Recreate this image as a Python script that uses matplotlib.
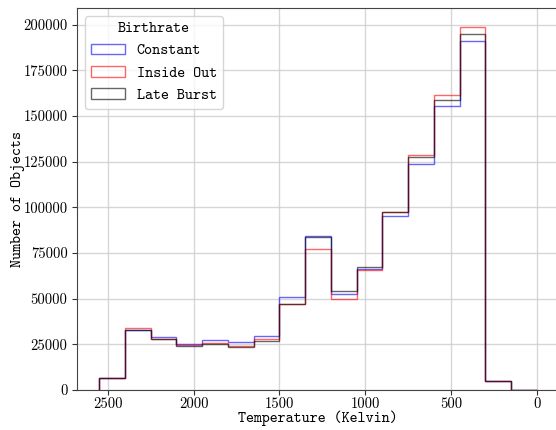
import numpy as np
import matplotlib
matplotlib.use("Agg")
import matplotlib.pyplot as plt

# bin edges (Kelvin)
edges = [2550, 2400, 2250, 2100, 1950, 1800, 1650, 1500, 1350, 1200,
         1050, 900, 750, 600, 450, 300, 150, 0]
edges = np.array(edges[::-1], dtype=float)

# counts per bin, from hot (2550) to cold (0)
constant = [6400, 33000, 29000, 25000, 27200, 26100, 29700, 50900, 84400,
            52300, 66500, 95500, 123800, 155700, 191300, 4800, 0]
inside_out = [6400, 34100, 28000, 24500, 25500, 24200, 27900, 46900, 77300,
              49800, 65600, 97200, 128400, 161500, 198900, 5000, 0]
late_burst = [6400, 33000, 28100, 24100, 25000, 23700, 26800, 46900, 83900,
              54000, 67400, 97200, 127300, 158800, 195100, 4800, 0]
series_names = ["Constant", "Inside Out", "Late Burst"]
series_colors = ["blue", "red", "black"]

plt.rcParams["mathtext.fontset"] = "cm"
plt.rcParams["font.family"] = ["cmr10", "DejaVu Serif"]
plt.rcParams["axes.formatter.use_mathtext"] = True
TT = ["cmtt10", "DejaVu Sans Mono"]

fig = plt.figure(figsize=(5.56, 4.30), dpi=100)
ax = fig.add_axes([0.139, 0.093, 0.866, 0.888])

centers = 0.5 * (edges[:-1] + edges[1:])
for vals, name, col in zip([constant, inside_out, late_burst], series_names, series_colors):
    w = np.array(vals[::-1], dtype=float)
    ax.hist(centers, bins=edges, weights=w, histtype="step", color=col,
            alpha=0.6, linewidth=1.0, label=name)

ax.set_xlim(2677.5, -127.5)
ax.set_ylim(0, 209000)
ax.set_xticks([2500, 2000, 1500, 1000, 500, 0])
ax.set_yticks(np.arange(0, 200001, 25000))
ax.yaxis.set_major_formatter(matplotlib.ticker.FuncFormatter(lambda v, p: "%d" % v))
ax.xaxis.set_major_formatter(matplotlib.ticker.FuncFormatter(lambda v, p: "%d" % v))
ax.tick_params(labelsize=10.5, colors="#333333", labelcolor="black")
ax.tick_params(axis="x", pad=1.5)
ax.grid(True, color="#cccccc", linewidth=1.0, alpha=0.8)
ax.set_axisbelow(True)
for s in ax.spines.values():
    s.set_color("#444444")

ax.set_xlabel("Temperature (Kelvin)", fontsize=11, family=TT, labelpad=0)
ax.set_ylabel("Number of Objects", fontsize=11, family=TT, labelpad=-1)
leg = ax.legend(title="Birthrate", loc="upper left",
                prop={"family": TT, "size": 11},
                title_fontproperties={"family": TT, "size": 11},
                framealpha=0.8, handlelength=2.2)

fig.savefig("out.png", dpi=100)
